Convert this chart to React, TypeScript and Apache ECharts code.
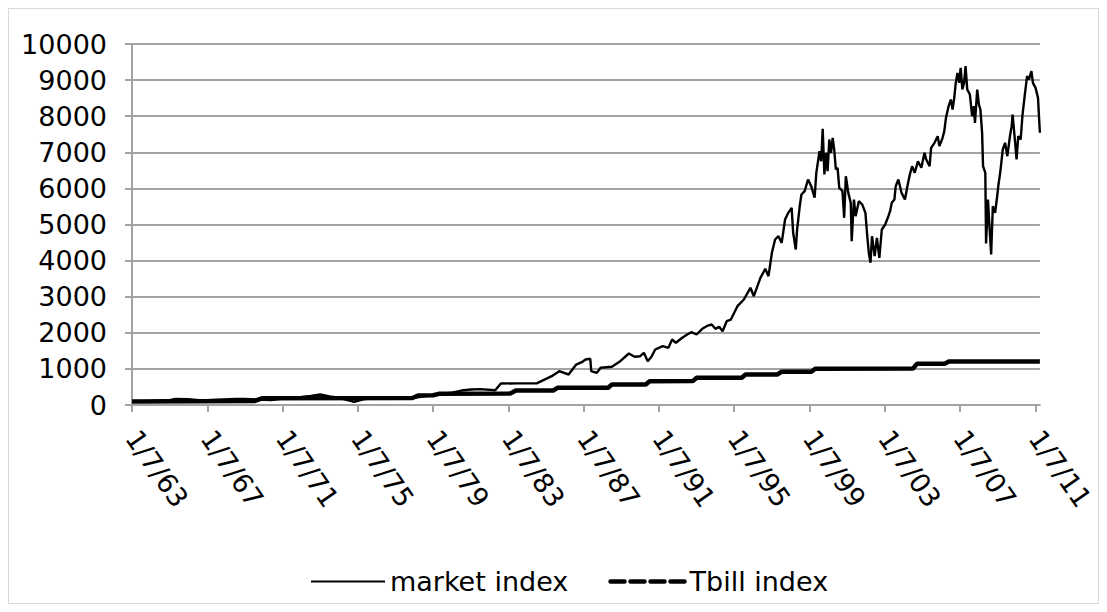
import React, { useEffect, useRef } from "react";
import * as echarts from "echarts";

// Decimal year of each reading (x axis)
const marketYears = [
  1963.0, 1964.0, 1965.0, 1965.3, 1966.0, 1966.7, 1967.5, 1968.5, 1969.0, 1969.7,
  1970.4, 1971.0, 1972.0, 1972.5, 1973.0, 1973.5, 1974.0, 1974.5, 1974.8, 1975.3,
  1976.0, 1977.0, 1978.0, 1978.5, 1979.0, 1980.0, 1980.5, 1981.0, 1981.5, 1982.3,
  1982.6, 1983.5, 1984.5, 1985.0, 1985.3, 1985.7, 1986.2, 1986.6, 1986.9, 1987.1,
  1987.35, 1987.4, 1987.7, 1987.9, 1988.5, 1988.9, 1989.4, 1989.7, 1990.0, 1990.2,
  1990.4, 1990.6, 1990.8, 1991.2, 1991.5, 1991.7, 1991.9, 1992.2, 1992.5, 1992.72,
  1993.0, 1993.3, 1993.6, 1993.8, 1994.0, 1994.2, 1994.38, 1994.6, 1994.82, 1995.17,
  1995.51, 1995.86, 1996.04, 1996.39, 1996.65, 1996.82, 1997.0, 1997.17, 1997.35, 1997.52,
  1997.7, 1997.87, 1998.05, 1998.13, 1998.27, 1998.34, 1998.48, 1998.57, 1998.74, 1998.92,
  1999.09, 1999.27, 1999.36, 1999.53, 1999.62, 1999.7, 1999.79, 1999.88, 1999.96, 2000.05,
  2000.14, 2000.23, 2000.31, 2000.4, 2000.49, 2000.58, 2000.75, 2000.84, 2000.93, 2001.06,
  2001.19, 2001.24, 2001.36, 2001.45, 2001.62, 2001.8, 2001.97, 2002.06, 2002.15, 2002.24,
  2002.32, 2002.46, 2002.58, 2002.71, 2002.84, 2003.02, 2003.19, 2003.28, 2003.37, 2003.51,
  2003.58, 2003.72, 2003.89, 2004.07, 2004.2, 2004.33, 2004.45, 2004.59, 2004.76, 2004.94,
  2005.11, 2005.2, 2005.38, 2005.46, 2005.64, 2005.81, 2005.9, 2006.07, 2006.16, 2006.25,
  2006.39, 2006.51, 2006.6, 2006.69, 2006.77, 2006.86, 2006.95, 2007.03, 2007.12, 2007.21,
  2007.29, 2007.38, 2007.52, 2007.64, 2007.73, 2007.79, 2007.91, 2008.0, 2008.08, 2008.17,
  2008.22, 2008.34, 2008.38, 2008.48, 2008.57, 2008.65, 2008.74, 2008.86, 2008.95, 2009.04,
  2009.13, 2009.27, 2009.39, 2009.51, 2009.65, 2009.74, 2009.79, 2009.91, 2010.0, 2010.09,
  2010.22, 2010.31, 2010.43, 2010.56, 2010.66, 2010.79, 2010.87, 2011.01, 2011.14, 2011.2,
  2011.24,
];
const marketValues = [
  100, 115, 135, 165, 160, 125, 150, 165, 170, 150,
  135, 180, 220, 250, 290, 240, 200, 130, 90, 160,
  210, 200, 200, 240, 280, 340, 400, 430, 440, 410,
  595, 600, 600, 725, 798, 936, 845, 1120, 1185, 1260,
  1280, 936, 892, 1030, 1058, 1196, 1427, 1335, 1352, 1446,
  1213, 1335, 1537, 1629, 1584, 1814, 1723, 1850, 1953, 2017,
  1953, 2110, 2200, 2230, 2110, 2166, 2044, 2321, 2368, 2737,
  2922, 3246, 3014, 3523, 3773, 3568, 4216, 4584, 4676, 4491,
  5138, 5323, 5462, 4770, 4307, 4861, 5507, 5831, 5923, 6247,
  6061, 5740, 6432, 7030, 6753, 7651, 6385, 6986, 6477, 7355,
  6986, 7401, 7078, 6524, 6570, 6016, 5923, 5185, 6338, 5877,
  5600, 4537, 5692, 5230, 5646, 5554, 5323, 4723, 4216, 3939,
  4676, 4122, 4630, 4077, 4861, 5000, 5230, 5369, 5600, 5692,
  6061, 6247, 5877, 5692, 6061, 6385, 6615, 6432, 6753, 6570,
  6986, 6800, 6615, 7124, 7263, 7447, 7170, 7401, 7586, 7955,
  8277, 8462, 8185, 8508, 8924, 9201, 8924, 9340, 8739, 8924,
  9386, 8739, 8601, 8000, 8277, 7817, 8739, 8323, 8185, 7540,
  6615, 6432, 4473, 5692, 4861, 4169, 5507, 5323, 5692, 6108,
  6432, 7078, 7263, 6892, 7447, 7724, 8047, 7355, 6800, 7447,
  7355, 8000, 8554, 9108, 9016, 9247, 8924, 8785, 8508, 7909,
  7540,
];

const tbillYears = [
  1963.0, 1969.5, 1969.9, 1977.9, 1978.2, 1979.0, 1979.3, 1983.1, 1983.4, 1985.4,
  1985.6, 1988.3, 1988.5, 1990.3, 1990.5, 1992.8, 1993.0, 1995.4, 1995.6, 1997.3,
  1997.5, 1999.1, 1999.3, 2004.5, 2004.7, 2006.2, 2006.4, 2011.24,
];
const tbillValues = [
  100, 110, 185, 195, 263, 270, 310, 320, 402, 405,
  476, 480, 568, 570, 659, 662, 753, 756, 845, 848,
  920, 923, 1003, 1008, 1141, 1145, 1205, 1208,
];

const xTickYears = [1963, 1967, 1971, 1975, 1979, 1983, 1987, 1991, 1995, 1999, 2003, 2007, 2011];
const yMin = 0;
const yMax = 10000;
const yStep = 1000;

const FONT = "DejaVu Sans";
const GRID_GRAY = "#a3a3a3";

export default function App() {
  const ref = useRef<HTMLDivElement>(null);

  useEffect(() => {
    if (!ref.current) return;
    const chart = echarts.init(ref.current, undefined, { renderer: "svg" });
    const market = marketYears.map((y, i) => [y, marketValues[i]]);
    const tbill = tbillYears.map((y, i) => [y, tbillValues[i]]);
    chart.setOption({
      animation: false,
      backgroundColor: "#ffffff",
      grid: { left: 123, right: 45, top: 35, bottom: 198 },
      xAxis: {
        type: "value",
        min: 1963,
        max: 2011.24,
        splitLine: { show: false },
        axisLine: { show: true, onZero: false, lineStyle: { color: GRID_GRAY, width: 2 } },
        axisTick: {
          show: true,
          length: 7,
          customValues: xTickYears,
          lineStyle: { color: GRID_GRAY, width: 2 },
        },
        axisLabel: {
          customValues: xTickYears,
          rotate: -55,
          margin: 28,
          color: "#000",
          fontFamily: FONT,
          fontSize: 27,
          formatter: (v: number) => "1/7/" + String(Math.round(v) % 100).padStart(2, "0"),
        },
      },
      yAxis: {
        type: "value",
        min: yMin,
        max: yMax,
        interval: yStep,
        axisLine: { show: true, lineStyle: { color: GRID_GRAY, width: 2 } },
        axisTick: { show: true, length: 7, lineStyle: { color: GRID_GRAY, width: 2 } },
        splitLine: { show: true, lineStyle: { color: GRID_GRAY, width: 2 } },
        axisLabel: {
          color: "#000",
          fontFamily: FONT,
          fontSize: 27,
          margin: 25,
          formatter: (v: number) => String(v),
        },
      },
      legend: {
        left: 296,
        top: 554,
        itemWidth: 74,
        itemHeight: 14,
        itemGap: 40,
        itemStyle: { opacity: 0 },
        textStyle: { color: "#000", fontFamily: FONT, fontSize: 27 },
        data: [
          {
            name: "market index",
            itemStyle: { opacity: 0 },
            lineStyle: { color: "#000", width: 2 },
          },
          {
            name: "Tbill index",
            itemStyle: { opacity: 0 },
            lineStyle: { color: "#000", width: 4.5, type: [14, 6], cap: "round" },
          },
        ],
      },
      series: [
        {
          name: "market index",
          type: "line",
          data: market,
          symbol: "none",
          showSymbol: false,
          lineStyle: { color: "#000", width: 2.4 },
          itemStyle: { color: "#000" },
          z: 3,
        },
        {
          name: "Tbill index",
          type: "line",
          data: tbill,
          symbol: "none",
          showSymbol: false,
          lineStyle: { color: "#000", width: 4.5 },
          itemStyle: { color: "#000" },
          z: 2,
        },
      ],
    });
    return () => chart.dispose();
  }, []);

  return (
    <div
      ref={ref}
      style={{
        width: 1091,
        height: 596,
        border: "1px solid #d9d9d9",
        boxSizing: "border-box",
      }}
    />
  );
}
